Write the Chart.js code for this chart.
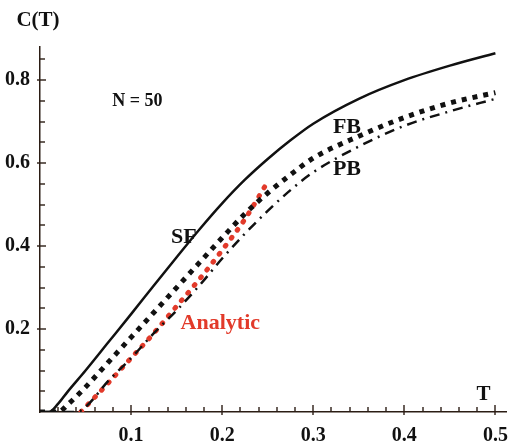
<!DOCTYPE html>
<html>
<head>
<meta charset="utf-8">
<script src="https://cdn.jsdelivr.net/npm/chart.js@4/dist/chart.umd.min.js"></script>
<style>
  html, body { margin: 0; padding: 0; background: #fff; }
  #wrap { width: 512px; height: 445px; }
</style>
</head>
<body>
<div id="wrap"><canvas id="myChart" width="512" height="445"></canvas></div>
<script>
// temperature grids and heat-capacity values
const tSF = [0, 0.01, 0.02, 0.03, 0.05, 0.075, 0.1, 0.125, 0.15, 0.175, 0.2, 0.225, 0.25, 0.275, 0.3, 0.35, 0.4, 0.45, 0.5];
const cSF = [0, 0, 0.02, 0.048, 0.10, 0.168, 0.236, 0.305, 0.373, 0.44, 0.503, 0.56, 0.61, 0.655, 0.695, 0.755, 0.80, 0.835, 0.865];

const tFB = [0, 0.01, 0.02, 0.03, 0.05, 0.075, 0.1, 0.125, 0.15, 0.175, 0.2, 0.225, 0.25, 0.275, 0.3, 0.35, 0.4, 0.45, 0.5];
const cFB = [0, 0, 0, 0.017, 0.06, 0.12, 0.18, 0.24, 0.30, 0.36, 0.42, 0.478, 0.528, 0.572, 0.612, 0.665, 0.71, 0.745, 0.77];

const tPB = [0, 0.02, 0.04, 0.05, 0.075, 0.1, 0.125, 0.15, 0.175, 0.2, 0.225, 0.25, 0.275, 0.3, 0.35, 0.4, 0.45, 0.5];
const cPB = [0, 0, 0, 0.012, 0.075, 0.13, 0.19, 0.245, 0.305, 0.37, 0.43, 0.485, 0.535, 0.578, 0.64, 0.69, 0.725, 0.755];

const tAn = [0.045, 0.05, 0.075, 0.1, 0.125, 0.15, 0.175, 0.2, 0.225, 0.25];
const cAn = [0, 0.012, 0.07, 0.13, 0.19, 0.255, 0.32, 0.39, 0.465, 0.555];

const xTickLabels = [0.1, 0.2, 0.3, 0.4, 0.5];
const yTickLabels = [0.2, 0.4, 0.6, 0.8];
const xMinorTicks = [0.02, 0.04, 0.06, 0.08, 0.12, 0.14, 0.16, 0.18, 0.22, 0.24, 0.26, 0.28,
  0.32, 0.34, 0.36, 0.38, 0.42, 0.44, 0.46, 0.48];
const yMinorTicks = [0.05, 0.1, 0.15, 0.25, 0.3, 0.35, 0.45, 0.5, 0.55, 0.65, 0.7, 0.75, 0.85];

// curve labels: [text, T, C, colour]
const curveLabels = [
  ["SF", 0.158, 0.422, "#111"],
  ["FB", 0.337, 0.687, "#111"],
  ["PB", 0.337, 0.584, "#111"],
  ["Analytic", 0.198, 0.214, "#e23a2a"],
];

const axisColor = "#2b1d14";
const serif = "'Liberation Serif', 'DejaVu Serif', serif";

function pts(ts, cs) {
  return ts.map((t, i) => ({ x: t, y: cs[i] }));
}

// inward tick marks + annotations
const decorations = {
  id: "decorations",
  afterDraw(chart) {
    const c = chart.ctx;
    const x = chart.scales.x;
    const y = chart.scales.y;
    const area = chart.chartArea;
    c.save();
    c.fillStyle = axisColor;
    const xt = (v, up, down) => {
      const px = Math.round(x.getPixelForValue(v));
      c.fillRect(px - 0.7, area.bottom - up, 1.4, up + down);
    };
    const yt = (v, left, right) => {
      const py = Math.round(y.getPixelForValue(v));
      c.fillRect(area.left - left, py - 0.7, left + right, 1.4);
    };
    xMinorTicks.forEach((v) => xt(v, 5, 0));
    xTickLabels.forEach((v) => xt(v, 7, 3));
    yMinorTicks.forEach((v) => yt(v, 0, 5));
    yTickLabels.forEach((v) => yt(v, 3, 6));

    c.textAlign = "center";
    c.textBaseline = "middle";
    for (const [txt, t, cv, col] of curveLabels) {
      c.fillStyle = col;
      c.font = "bold 22px " + serif;
      c.fillText(txt, x.getPixelForValue(t), y.getPixelForValue(cv));
    }
    c.fillStyle = "#111";
    c.font = "bold 18px " + serif;
    c.fillText("N = 50", x.getPixelForValue(0.107), y.getPixelForValue(0.75));
    c.font = "bold 21px " + serif;
    c.fillText("C(T)", 38, 21);
    c.fillText("T", x.getPixelForValue(0.487), area.bottom - 17);
    c.restore();
  },
};

const ctx = document.getElementById("myChart").getContext("2d");

new Chart(ctx, {
  type: "scatter",
  data: {
    datasets: [
      {
        label: "SF",
        data: pts(tSF, cSF),
        showLine: true,
        borderColor: "#111",
        borderWidth: 2.5,
        pointRadius: 0,
        cubicInterpolationMode: "monotone",
      },
      {
        label: "FB",
        data: pts(tFB, cFB),
        showLine: true,
        borderColor: "#111",
        borderWidth: 5,
        borderDash: [5, 6],
        pointRadius: 0,
        cubicInterpolationMode: "monotone",
      },
      {
        label: "PB",
        data: pts(tPB, cPB),
        showLine: true,
        borderColor: "#111",
        borderWidth: 2.5,
        borderDash: [10, 6, 2, 6],
        pointRadius: 0,
        cubicInterpolationMode: "monotone",
      },
      {
        label: "Analytic",
        data: pts(tAn, cAn),
        showLine: true,
        borderColor: "#e23a2a",
        borderWidth: 5,
        borderDash: [1, 9],
        borderCapStyle: "round",
        pointRadius: 0,
        cubicInterpolationMode: "monotone",
      },
    ],
  },
  options: {
    responsive: false,
    animation: false,
    layout: { padding: { top: 47, right: 4, left: 0, bottom: 0 } },
    plugins: { legend: { display: false }, tooltip: { enabled: false } },
    scales: {
      x: {
        type: "linear",
        min: 0,
        max: 0.512,
        grid: { display: false },
        border: { display: true, color: axisColor, width: 1.5 },
        afterBuildTicks: (s) => { s.ticks = xTickLabels.map((v) => ({ value: v })); },
        ticks: {
          autoSkip: false,
          maxRotation: 0,
          padding: 4,
          color: "#111",
          font: { family: serif, size: 20, weight: "bold" },
          callback: (v) => String(v),
        },
        afterFit: (s) => { s.height = 33; },
      },
      y: {
        type: "linear",
        min: 0,
        max: 0.88,
        grid: { display: false },
        border: { display: true, color: axisColor, width: 1.5 },
        afterBuildTicks: (s) => { s.ticks = yTickLabels.map((v) => ({ value: v })); },
        ticks: {
          autoSkip: false,
          padding: 2,
          color: "#111",
          font: { family: serif, size: 20, weight: "bold" },
          callback: (v) => String(v),
        },
        afterFit: (s) => { s.width = 40; },
      },
    },
  },
  plugins: [decorations],
});
</script>
</body>
</html>
